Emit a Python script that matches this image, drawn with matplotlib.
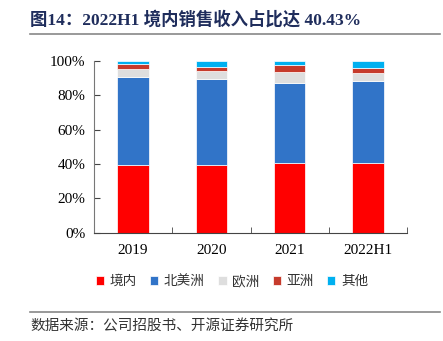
import matplotlib.pyplot as plt
import numpy as np

plt.rcParams['font.family'] = ['Liberation Serif', 'Noto Sans CJK SC']

years = ['2019', '2020', '2021', '2022H1']
series = ['境内', '北美洲', '欧洲', '亚洲', '其他']
domestic = [39.6, 39.4, 40.8, 40.43]
north_america = [51.0, 50.3, 46.6, 47.9]
europe = [5.0, 4.3, 6.2, 4.7]
asia = [2.6, 2.7, 3.9, 2.7]
other = [1.8, 3.3, 2.5, 4.27]
colors = ['#FF0000', '#3174C8', '#DEDEDE', '#C63B2C', '#00B0F0']

fig = plt.figure(figsize=(4.43, 3.41), dpi=100)
ax = fig.add_axes([94/443, 1-232.7/341, 313/443, 171.7/341])

x = np.arange(len(years))
bottom = np.zeros(len(years))
for name, vals, c in zip(series, [domestic, north_america, europe, asia, other], colors):
    ax.bar(x, vals, 0.4, bottom=bottom, color=c, label=name, edgecolor='white', linewidth=0.5)
    bottom += np.array(vals)

ax.set_xlim(-0.5, len(years) - 0.5)
ax.set_ylim(0, 100)
ax.set_yticks(range(0, 101, 20))
ax.set_yticklabels([f'{v}%' for v in range(0, 101, 20)], fontsize=11)
ax.set_xticks(x)
ax.set_xticklabels(years, fontsize=11)
ax.tick_params(axis='x', length=0, pad=8)
ax.set_xticks(np.arange(-0.5, len(years)), minor=True)
ax.tick_params(axis='x', which='minor', direction='in', length=4, color='#444444')
ax.tick_params(axis='y', direction='in', length=4, color='#444444', pad=6)
for s in ['top', 'right']:
    ax.spines[s].set_visible(False)
ax.spines['left'].set_color('#777777')
ax.spines['bottom'].set_color('#444444')

leg = fig.legend(loc='center', bbox_to_anchor=(232/443, 1-281/341), ncol=5, frameon=False,
                 handlelength=0.6, handleheight=0.6, handletextpad=0.4, columnspacing=1.0,
                 prop={'family': ['Noto Sans CJK SC'], 'size': 9.8})
for t in leg.get_texts():
    t.set_color('#333333')

fig.text(30/443, 1-20/341, '图14：2022H1 境内销售收入占比达 40.43%', fontsize=12.5, fontweight='bold',
         color='#1F2D5C', va='center', family=['Liberation Serif', 'Noto Sans CJK SC'])
fig.add_artist(plt.Line2D([30/443, 440/443], [1-34/341, 1-34/341], color='#888888', linewidth=1.2))
fig.add_artist(plt.Line2D([30/443, 440/443], [1-312/341, 1-312/341], color='#888888', linewidth=1.2))
fig.text(30/443, 1-327/341, '数据来源：公司招股书、开源证券研究所', fontsize=10.5, color='#333333',
         va='center', family=['Noto Sans CJK SC'])

fig.savefig('out.png', dpi=100)
